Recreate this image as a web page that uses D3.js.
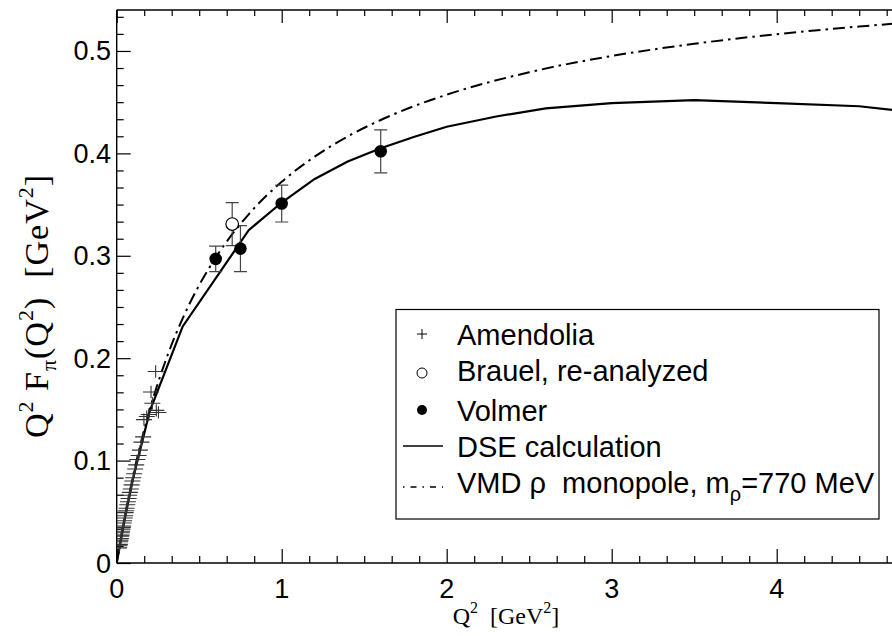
<!DOCTYPE html>
<html>
<head>
<meta charset="utf-8">
<script src="https://cdn.jsdelivr.net/npm/d3@7"></script>
<style>
  html, body { margin: 0; padding: 0; background: #fff; }
  svg { display: block; }
  text { fill: #000; }
</style>
</head>
<body>
<svg id="chart" width="892" height="636"></svg>
<script>
// Pion electromagnetic form factor, Q^2 F_pi(Q^2) versus Q^2.

// Amendolia (NA7) points: Q^2 [GeV^2], Q^2 F, error
const amendoliaQ2 = [0.015, 0.017, 0.019, 0.021, 0.023, 0.025, 0.027, 0.029, 0.031, 0.033,
  0.035, 0.037, 0.039, 0.042, 0.045, 0.048, 0.051, 0.054, 0.057, 0.060,
  0.064, 0.068, 0.072, 0.076, 0.080, 0.085, 0.090, 0.095, 0.100, 0.106,
  0.112, 0.118, 0.125, 0.133, 0.141, 0.150, 0.160, 0.165, 0.182, 0.195,
  0.208, 0.216, 0.236, 0.240, 0.253];
const amendoliaVal = [0.0148, 0.0168, 0.0182, 0.0207, 0.0222, 0.0238, 0.0262, 0.0272, 0.0296, 0.0310,
  0.0331, 0.0348, 0.0362, 0.0391, 0.0412, 0.0440, 0.0461, 0.0492, 0.0510, 0.0534,
  0.0569, 0.0598, 0.0630, 0.0661, 0.0690, 0.0722, 0.0763, 0.0800, 0.0833, 0.0871,
  0.0918, 0.0958, 0.1010, 0.1050, 0.1102, 0.1180, 0.1232, 0.1400, 0.1430, 0.1450,
  0.1670, 0.1560, 0.1870, 0.1490, 0.1470];
const amendoliaErr = [0.004, 0.004, 0.004, 0.004, 0.004, 0.004, 0.004, 0.004, 0.004, 0.004,
  0.004, 0.004, 0.004, 0.004, 0.004, 0.004, 0.004, 0.004, 0.004, 0.004,
  0.004, 0.004, 0.004, 0.004, 0.004, 0.004, 0.004, 0.004, 0.004, 0.004,
  0.005, 0.005, 0.005, 0.005, 0.005, 0.005, 0.005, 0.006, 0.006, 0.006,
  0.006, 0.006, 0.006, 0.006, 0.006];

// Brauel, re-analyzed
const brauelQ2 = [0.70];
const brauelVal = [0.331];
const brauelErr = [0.021];

// Volmer
const volmerQ2 = [0.60, 0.75, 1.00, 1.60];
const volmerVal = [0.297, 0.307, 0.351, 0.402];
const volmerErr = [0.0125, 0.0225, 0.018, 0.021];

// DSE calculation
const dseQ2 = [0, 0.05, 0.10, 0.20, 0.40, 0.80, 1.00, 1.20, 1.40, 1.60, 1.80, 2.00,
  2.30, 2.60, 3.00, 3.50, 4.00, 4.50, 5.00];
const dseVal = [0, 0.044, 0.083, 0.148, 0.231, 0.325, 0.352, 0.375, 0.392, 0.405, 0.416, 0.426,
  0.436, 0.444, 0.449, 0.452, 0.449, 0.446, 0.437];

// VMD rho monopole, m_rho = 770 MeV
const vmdQ2 = [0, 0.05, 0.10, 0.15, 0.20, 0.30, 0.40, 0.50, 0.60, 0.80, 1.00, 1.20, 1.40,
  1.60, 1.80, 2.00, 2.50, 3.00, 3.50, 4.00, 4.50, 5.00];
const vmdVal = [0, 0.0461, 0.0856, 0.1197, 0.1496, 0.1992, 0.2389, 0.2713, 0.2982, 0.3405,
  0.3722, 0.3968, 0.4165, 0.4326, 0.4460, 0.4573, 0.4792, 0.4951, 0.5070, 0.5164, 0.5239, 0.5300];

// Axis ticks (the frame runs on to Q^2 = 5, past the right edge of the page)
const xTickValues = [0, 1, 2, 3, 4, 5];
const xTickLabels = ["0", "1", "2", "3", "4"];
const yTickValues = [0, 0.1, 0.2, 0.3, 0.4, 0.5];
const yTickLabels = ["0", "0.1", "0.2", "0.3", "0.4", "0.5"];

const legendLabels = ["Amendolia", "Brauel, re-analyzed", "Volmer", "DSE calculation", "VMD"];

// ---------------------------------------------------------------
const svg = d3.select("#chart");
const W = 892, H = 636;
const padL = 116.7, padT = 10, baseY = 563;
const x = d3.scaleLinear().domain([0, 5]).range([padL, padL + 825]);
const y = d3.scaleLinear().domain([0, 0.54]).range([baseY, padT]);

const sans = "'Liberation Sans', Arial, Helvetica, sans-serif";
const serif = "'Liberation Serif', 'Times New Roman', Times, serif";

svg.append("defs").append("clipPath").attr("id", "plotclip")
  .append("rect").attr("x", padL).attr("y", padT).attr("width", W - padL).attr("height", baseY - padT);

// frame
const axisG = svg.append("g").attr("stroke", "#000").attr("stroke-width", 1.4).attr("fill", "none");
axisG.append("line").attr("x1", padL).attr("x2", W + 5).attr("y1", baseY).attr("y2", baseY);
axisG.append("line").attr("x1", padL).attr("x2", W + 5).attr("y1", padT).attr("y2", padT);
axisG.append("line").attr("x1", padL).attr("x2", padL).attr("y1", padT).attr("y2", baseY);

// x ticks (major every 1, minor every 1/6), drawn inward on bottom and top
const bottomAxis = d3.axisBottom(x).tickValues(xTickValues).tickSize(-14).tickFormat("");
const topAxis = d3.axisTop(x).tickValues(xTickValues).tickSize(-13).tickFormat("");
const xMinor = d3.range(0, 31).map(i => i / 6).filter(v => Math.abs(v - Math.round(v)) > 1e-6);
const bottomMinor = d3.axisBottom(x).tickValues(xMinor).tickSize(-7).tickFormat("");
const topMinor = d3.axisTop(x).tickValues(xMinor).tickSize(-6).tickFormat("");

function styleAxis(g) {
  g.select(".domain").remove();
  g.selectAll("line").attr("stroke", "#000").attr("stroke-width", 1.2);
}
svg.append("g").attr("transform", `translate(0,${baseY})`).call(bottomAxis).call(styleAxis);
svg.append("g").attr("transform", `translate(0,${baseY})`).call(bottomMinor).call(styleAxis);
svg.append("g").attr("transform", `translate(0,${padT})`).call(topAxis).call(styleAxis);
svg.append("g").attr("transform", `translate(0,${padT})`).call(topMinor).call(styleAxis);

// y ticks (major every 0.1, minor every 0.1/6)
const yMinor = d3.range(0, 33).map(i => i * 0.1 / 6).filter(v => v <= 0.54 && Math.abs(v * 10 - Math.round(v * 10)) > 1e-6);
svg.append("g").attr("transform", `translate(${padL},0)`)
  .call(d3.axisLeft(y).tickValues(yTickValues).tickSize(-14).tickFormat("")).call(styleAxis);
svg.append("g").attr("transform", `translate(${padL},0)`)
  .call(d3.axisLeft(y).tickValues(yMinor).tickSize(-7).tickFormat("")).call(styleAxis);

// tick labels
svg.append("g").selectAll("text").data(xTickLabels).join("text")
  .attr("x", (d, i) => x(xTickValues[i])).attr("y", 598)
  .attr("text-anchor", "middle")
  .style("font-family", sans).style("font-size", "27px")
  .text(d => d);
svg.append("g").selectAll("text").data(yTickValues).join("text")
  .attr("x", 111).attr("y", d => y(d) + 9.5)
  .attr("text-anchor", "end")
  .style("font-family", sans).style("font-size", "27px")
  .text((d, i) => yTickLabels[i]);

// axis titles
const xt = svg.append("text").attr("x", 506).attr("y", 624).attr("text-anchor", "middle")
  .style("font-family", serif).style("font-size", "24px");
xt.append("tspan").text("Q");
xt.append("tspan").attr("dy", -11).style("font-size", "16px").text("2");
xt.append("tspan").attr("dy", 11).text("\u00a0 [GeV");
xt.append("tspan").attr("dy", -11).style("font-size", "16px").text("2");
xt.append("tspan").attr("dy", 11).text("]");

const yt = svg.append("text").attr("transform", "translate(48,306) rotate(-90)")
  .attr("text-anchor", "middle")
  .style("font-family", serif).style("font-size", "34px").style("letter-spacing", "1px");
yt.append("tspan").text("Q");
yt.append("tspan").attr("dy", -15).style("font-size", "22px").text("2");
yt.append("tspan").attr("dy", 15).text("\u00a0F");
yt.append("tspan").attr("dy", 8).style("font-size", "22px").text("\u03c0");
yt.append("tspan").attr("dy", -8).text("(Q");
yt.append("tspan").attr("dy", -15).style("font-size", "22px").text("2");
yt.append("tspan").attr("dy", 15).text(")\u00a0 [GeV");
yt.append("tspan").attr("dy", -15).style("font-size", "22px").text("2");
yt.append("tspan").attr("dy", 15).text("]");

// ---------------------------------------------------------------
// curves and data
const plot = svg.append("g").attr("clip-path", "url(#plotclip)");

const dse = dseQ2.map((q, i) => [q, dseVal[i]]);
const vmd = vmdQ2.map((q, i) => [q, vmdVal[i]]);

plot.append("path").datum(vmd)
  .attr("d", d3.line().x(d => x(d[0])).y(d => y(d[1])).curve(d3.curveMonotoneX))
  .attr("fill", "none").attr("stroke", "#000").attr("stroke-width", 2)
  .attr("stroke-dasharray", "12,5,2.5,5");
plot.append("path").datum(dse)
  .attr("d", d3.line().x(d => x(d[0])).y(d => y(d[1])))
  .attr("fill", "none").attr("stroke", "#000").attr("stroke-width", 2.2);

// Amendolia crosses
const amend = amendoliaQ2.map((q, i) => ({ q, v: amendoliaVal[i], e: amendoliaErr[i] }));
const ag = plot.append("g").attr("stroke", "#333").attr("stroke-width", 1.1);
ag.selectAll("line.h").data(amend).join("line").attr("class", "h")
  .attr("x1", d => x(d.q) - 8).attr("x2", d => x(d.q) + 8)
  .attr("y1", d => y(d.v)).attr("y2", d => y(d.v));
ag.selectAll("line.v").data(amend).join("line").attr("class", "v")
  .attr("x1", d => x(d.q)).attr("x2", d => x(d.q))
  .attr("y1", d => y(d.v - d.e)).attr("y2", d => y(d.v + d.e));

// error bars with caps
function errorBars(q2, val, err) {
  const d = q2.map((q, i) => ({ q, v: val[i], e: err[i] }));
  const g = plot.append("g").attr("stroke", "#444").attr("stroke-width", 1.2);
  g.selectAll("line.v").data(d).join("line").attr("class", "v")
    .attr("x1", p => x(p.q)).attr("x2", p => x(p.q))
    .attr("y1", p => y(p.v - p.e)).attr("y2", p => y(p.v + p.e));
  g.selectAll("line.t").data(d).join("line").attr("class", "t")
    .attr("x1", p => x(p.q) - 6.5).attr("x2", p => x(p.q) + 6.5)
    .attr("y1", p => y(p.v + p.e)).attr("y2", p => y(p.v + p.e));
  g.selectAll("line.b").data(d).join("line").attr("class", "b")
    .attr("x1", p => x(p.q) - 6.5).attr("x2", p => x(p.q) + 6.5)
    .attr("y1", p => y(p.v - p.e)).attr("y2", p => y(p.v - p.e));
  return d;
}
const brauel = errorBars(brauelQ2, brauelVal, brauelErr);
const volmer = errorBars(volmerQ2, volmerVal, volmerErr);

plot.append("g").selectAll("circle").data(brauel).join("circle")
  .attr("cx", d => x(d.q)).attr("cy", d => y(d.v)).attr("r", 6.3)
  .attr("fill", "#fff").attr("stroke", "#000").attr("stroke-width", 1.2);
plot.append("g").selectAll("circle").data(volmer).join("circle")
  .attr("cx", d => x(d.q)).attr("cy", d => y(d.v)).attr("r", 6.3)
  .attr("fill", "#000");

// ---------------------------------------------------------------
// legend
const lg = svg.append("g");
lg.append("rect").attr("x", 396).attr("y", 309.5).attr("width", 483).attr("height", 209.5)
  .attr("fill", "#fff").attr("stroke", "#000").attr("stroke-width", 1.2);

const rowY = [334, 370, 410, 446, 482];
const symX = 422, textX = 457;
// symbols
lg.append("path").attr("d", `M${symX - 5},${rowY[0]}H${symX + 5}M${symX},${rowY[0] - 5}V${rowY[0] + 5}`)
  .attr("stroke", "#000").attr("stroke-width", 1);
lg.append("circle").attr("cx", symX).attr("cy", rowY[1] + 3).attr("r", 5)
  .attr("fill", "none").attr("stroke", "#000").attr("stroke-width", 1);
lg.append("circle").attr("cx", symX).attr("cy", rowY[2]).attr("r", 5).attr("fill", "#000");
lg.append("line").attr("x1", 403).attr("x2", 443).attr("y1", rowY[3]).attr("y2", rowY[3])
  .attr("stroke", "#000").attr("stroke-width", 1.5);
lg.append("line").attr("x1", 403).attr("x2", 443).attr("y1", rowY[4] + 5).attr("y2", rowY[4] + 5)
  .attr("stroke", "#000").attr("stroke-width", 1.5).attr("stroke-dasharray", "1.5,6,6,6");

// labels
rowY.slice(0, 4).forEach((ry, i) => {
  lg.append("text").attr("x", textX).attr("y", ry + 10.5)
    .style("font-family", sans).style("font-size", "29px").text(legendLabels[i]);
});
const vt = lg.append("text").attr("x", textX).attr("y", rowY[4] + 10.5)
  .style("font-family", sans).style("font-size", "29px");
vt.append("tspan").text(legendLabels[4] + " \u03c1\u00a0 monopole, m");
vt.append("tspan").attr("dy", 8).style("font-size", "20px").text("\u03c1");
vt.append("tspan").attr("dy", -8).text("=770 MeV");
</script>
</body>
</html>
